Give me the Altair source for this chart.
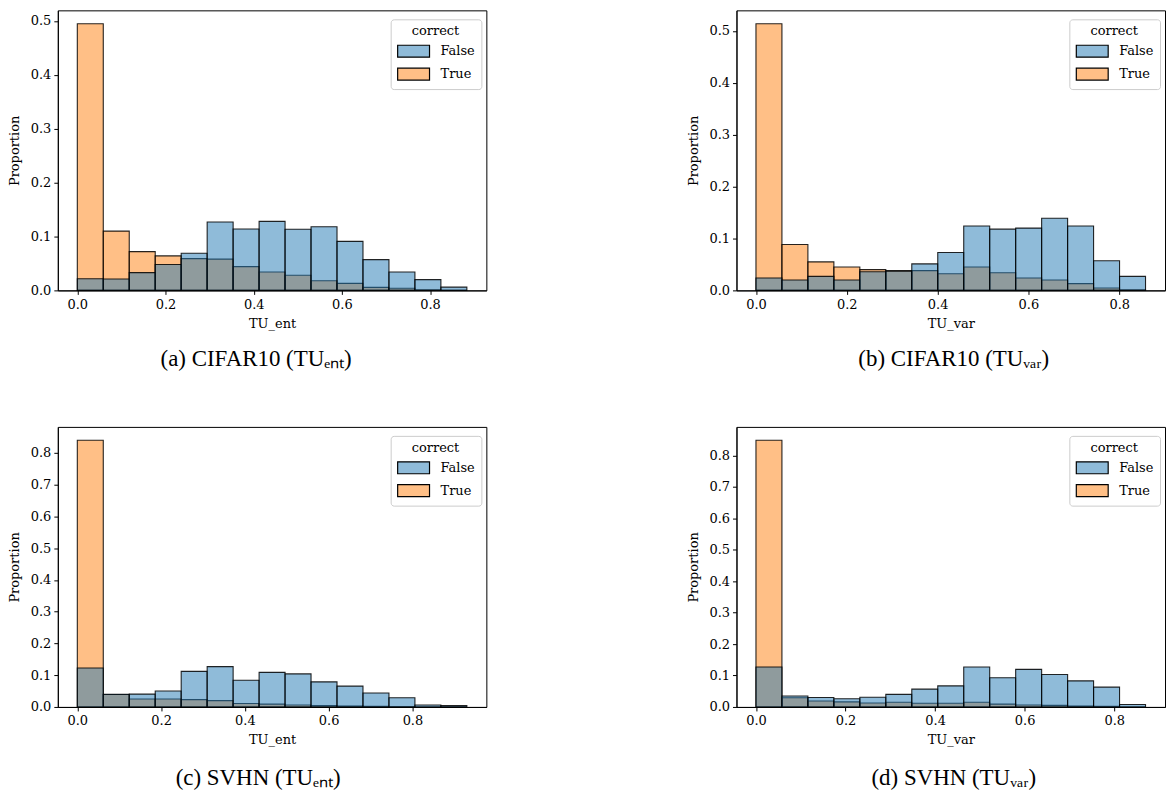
import altair as alt
import pandas as pd

FONT = "DejaVu Serif"
CAP_FONT = "Liberation Serif"

captions = ["(a) CIFAR10 (TUₑₙₜ)", "(b) CIFAR10 (TUᵥₐᵣ)",
            "(c) SVHN (TUₑₙₜ)", "(d) SVHN (TUᵥₐᵣ)"]
x_titles = ["TU_ent", "TU_var", "TU_ent", "TU_var"]
bin_widths = [0.0589, 0.0572, 0.0620, 0.0580]
x_ticks = [0.0, 0.2, 0.4, 0.6, 0.8]
y_ticks_top = [0.0, 0.1, 0.2, 0.3, 0.4, 0.5]
y_ticks_bottom = [0.0, 0.1, 0.2, 0.3, 0.4, 0.5, 0.6, 0.7, 0.8]
classes = ["False", "True"]
base_colors = ["#1f77b4", "#ff7f0e"]
legend_colors = ["#8fbbd9", "#ffbf86"]

# (a) CIFAR10 TU_ent
a_false = [0.0215, 0.021, 0.033, 0.048, 0.069, 0.127, 0.114, 0.128, 0.1135, 0.118, 0.091, 0.057, 0.034, 0.020, 0.006]
a_true = [0.495, 0.110, 0.072, 0.064, 0.059, 0.058, 0.044, 0.034, 0.028, 0.018, 0.013, 0.0055, 0.004, 0.001, 0.0]
# (b) CIFAR10 TU_var
b_false = [0.024, 0.020, 0.027, 0.020, 0.036, 0.037, 0.051, 0.073, 0.124, 0.118, 0.120, 0.139, 0.124, 0.057, 0.027]
b_true = [0.514, 0.0885, 0.055, 0.045, 0.040, 0.038, 0.038, 0.032, 0.045, 0.034, 0.024, 0.020, 0.013, 0.0045, 0.001]
# (c) SVHN TU_ent
c_false = [0.1226, 0.040, 0.0405, 0.050, 0.112, 0.127, 0.084, 0.109, 0.104, 0.079, 0.0655, 0.044, 0.029, 0.006, 0.004]
c_true = [0.840, 0.039, 0.025, 0.025, 0.023, 0.020, 0.011, 0.009, 0.006, 0.004, 0.003, 0.002, 0.001, 0.0, 0.0]
# (d) SVHN TU_var
d_false = [0.127, 0.0346, 0.030, 0.026, 0.031, 0.040, 0.0566, 0.067, 0.127, 0.093, 0.1195, 0.103, 0.083, 0.063, 0.008]
d_true = [0.848, 0.029, 0.019, 0.016, 0.0125, 0.0147, 0.0115, 0.0115, 0.0147, 0.009, 0.006, 0.005, 0.003, 0.002, 0.0]

falses = [a_false, b_false, c_false, d_false]
trues = [a_true, b_true, c_true, d_true]
y_ticks = [y_ticks_top, y_ticks_top, y_ticks_bottom, y_ticks_bottom]
caption_dx = [-16, 3, -14, 3]
caption_offset = [18, 18, 20, 20]

W, H = 430, 281
LEG_W = 88


def panel(i):
    bw = bin_widths[i]
    rows = []
    for label, vals, o in (("True", trues[i], 0), ("False", falses[i], 1)):
        for k, v in enumerate(vals):
            rows.append({"correct": label, "x0": k * bw, "x1": (k + 1) * bw,
                         "p": v, "ord": o})
    df = pd.DataFrame(rows)
    xmax = len(falses[i]) * bw
    ymax = max(max(trues[i]), max(falses[i])) * 1.05
    x_enc = alt.X("x0:Q",
                  scale=alt.Scale(domain=[-0.05 * xmax, 1.05 * xmax], nice=False, zero=False),
                  axis=alt.Axis(values=x_ticks, tickCount=20, format=".1f", title=x_titles[i],
                                labelPadding=4, titlePadding=6))
    y_enc = alt.Y("p:Q", stack=None,
                  scale=alt.Scale(domain=[0, ymax], nice=False),
                  axis=alt.Axis(values=y_ticks[i], tickCount=20, format=".1f", title="Proportion",
                                labelOverlap=False, minExtent=32, maxExtent=32))
    base = alt.Chart(df)
    bars = base.mark_bar(
        fillOpacity=0.5, stroke="black", strokeWidth=1.1, strokeOpacity=0.85
    ).encode(
        x=x_enc, x2="x1:Q", y=y_enc, y2=alt.datum(0),
        fill=alt.Fill("correct:N",
                      scale=alt.Scale(domain=classes, range=base_colors),
                      legend=None),
        order=alt.Order("ord:Q"),
    )
    legend_layer = base.transform_filter("datum.p < 0").mark_bar(
        stroke="black", strokeWidth=1.2
    ).encode(
        x="x0:Q", x2="x1:Q", y="p:Q", y2=alt.datum(0),
        color=alt.Color(
            "correct:N",
            scale=alt.Scale(domain=classes, range=legend_colors),
            legend=alt.Legend(
                title="correct", orient="none", legendX=W - LEG_W - 8, legendY=9,
                titleFont=FONT, titleFontSize=13, titleFontWeight="normal",
                titleColor="black", titleAnchor="middle", titleAlign="center",
                titlePadding=6,
                labelFont=FONT, labelFontSize=13, labelColor="black", labelOffset=30,
                symbolType="M-1,-1H4.33V1H-1Z", symbolSize=144,
                symbolStrokeColor="black", symbolStrokeWidth=1.2,
                rowPadding=5, padding=6,
                strokeColor="#cccccc", fillColor="white", cornerRadius=3,
            ),
        ),
    )
    return alt.layer(bars, legend_layer).resolve_scale(color="independent").properties(
        width=W, height=H,
        title=alt.TitleParams(text=captions[i], orient="bottom", anchor="middle",
                              font=CAP_FONT, fontSize=23, fontWeight="normal",
                              color="black", offset=caption_offset[i], dx=caption_dx[i]),
    )


row1 = alt.hconcat(panel(0), panel(1), spacing=200)
row2 = alt.hconcat(panel(2), panel(3), spacing=200)
chart = alt.vconcat(row1, row2, spacing=54).resolve_scale(
    color="independent", fill="independent", x="independent", y="independent"
).resolve_legend(color="independent").properties(
    padding={"left": 0, "top": 0, "right": 0, "bottom": 0}
).configure_view(
    stroke="black", strokeWidth=1
).configure_axis(
    grid=False, domainColor="black", tickColor="black", tickSize=4,
    labelFont=FONT, labelFontSize=13, labelColor="black",
    titleFont=FONT, titleFontSize=13, titleFontWeight="normal", titleColor="black",
    labelPadding=3, titlePadding=4,
)

chart.save("out.html", embed_options={"renderer": "svg", "actions": False})
